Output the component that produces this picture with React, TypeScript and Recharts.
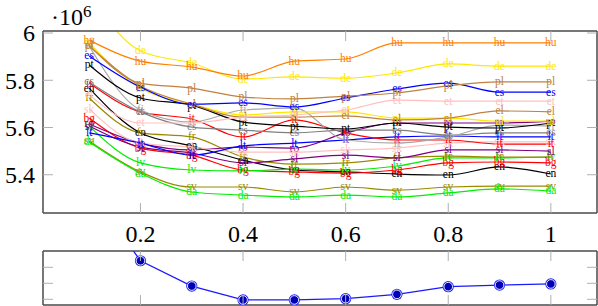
import React from 'react';
import { LineChart, Line, XAxis, YAxis } from 'recharts';

const xValues = [0.1, 0.2, 0.3, 0.4, 0.5, 0.6, 0.7, 0.8, 0.9, 1.0];
const xTicks = [0.2, 0.4, 0.6, 0.8, 1];
const xTickLabels = ['0.2', '0.4', '0.6', '0.8', '1'];
const yTicks = [5.4, 5.6, 5.8, 6];
const yTickLabels = ['5.4', '5.6', '5.8', '6'];
const scaleLabel = '·10';
const scaleExp = '6';

const hu = [5.970, 5.881, 5.856, 5.818, 5.881, 5.890, 5.958, 5.958, 5.958, 5.958];
const de = [6.160, 5.924, 5.873, 5.805, 5.814, 5.809, 5.831, 5.869, 5.860, 5.860];
const pl = [5.949, 5.788, 5.767, 5.729, 5.721, 5.733, 5.746, 5.776, 5.793, 5.793];
const es = [5.903, 5.771, 5.699, 5.704, 5.687, 5.725, 5.763, 5.788, 5.750, 5.750];
const et = [5.738, 5.619, 5.619, 5.644, 5.653, 5.674, 5.716, 5.712, 5.712, 5.712];
const el = [5.945, 5.776, 5.699, 5.644, 5.644, 5.649, 5.632, 5.640, 5.670, 5.666];
const nl = [5.958, 5.767, 5.699, 5.653, 5.666, 5.666, 5.640, 5.640, 5.627, 5.627];
const pt = [5.865, 5.725, 5.695, 5.623, 5.606, 5.594, 5.619, 5.602, 5.598, 5.619];
const fi = [5.945, 5.674, 5.623, 5.674, 5.682, 5.547, 5.534, 5.560, 5.610, 5.606];
const cs = [5.793, 5.666, 5.602, 5.589, 5.577, 5.589, 5.589, 5.568, 5.577, 5.577];
const it = [5.788, 5.666, 5.636, 5.560, 5.632, 5.577, 5.547, 5.547, 5.530, 5.530];
const lt = [5.577, 5.534, 5.483, 5.522, 5.534, 5.547, 5.560, 5.564, 5.560, 5.560];
const sk = [5.678, 5.534, 5.517, 5.496, 5.496, 5.505, 5.513, 5.534, 5.539, 5.539];
const ro = [5.615, 5.534, 5.505, 5.517, 5.513, 5.577, 5.619, 5.619, 5.619, 5.627];
const sl = [5.606, 5.517, 5.492, 5.450, 5.467, 5.483, 5.471, 5.505, 5.505, 5.500];
const fr = [5.725, 5.577, 5.560, 5.475, 5.445, 5.450, 5.471, 5.479, 5.475, 5.475];
const lv = [5.606, 5.450, 5.420, 5.416, 5.424, 5.420, 5.437, 5.471, 5.471, 5.475];
const bg = [5.640, 5.513, 5.483, 5.420, 5.412, 5.407, 5.420, 5.450, 5.454, 5.450];
const en = [5.767, 5.577, 5.522, 5.462, 5.420, 5.412, 5.403, 5.399, 5.433, 5.403];
const sv = [5.543, 5.412, 5.348, 5.348, 5.327, 5.348, 5.335, 5.348, 5.352, 5.352];
const da = [5.539, 5.407, 5.327, 5.314, 5.306, 5.314, 5.306, 5.323, 5.340, 5.331];

const bottomValues = [6.86, 2.41, 0.83, -0.04, -0.04, 0.04, 0.31, 0.79, 0.89, 0.96];
const bottomTicks = [0, 1, 2];

const ORANGE = '#ff8000';
const YELLOW = '#ffe800';
const BROWN = '#bf8040';
const BLUE = '#0000ff';
const PINK = '#ffbfbf';
const BLACK = '#000000';
const GRAY = '#808080';
const LGRAY = '#a8a8a8';
const RED = '#ff0000';
const OLIVE = '#9a8a00';
const GREEN = '#00ee00';
const PURPLE = '#800080';

const series = [
  { name: 'sv', values: sv, color: OLIVE },
  { name: 'da', values: da, color: GREEN },
  { name: 'en', values: en, color: BLACK },
  { name: 'bg', values: bg, color: RED },
  { name: 'lv', values: lv, color: GREEN },
  { name: 'fr', values: fr, color: OLIVE },
  { name: 'sl', values: sl, color: PURPLE },
  { name: 'ro', values: ro, color: PURPLE },
  { name: 'sk', values: sk, color: PINK },
  { name: 'lt', values: lt, color: BLUE },
  { name: 'it', values: it, color: RED },
  { name: 'cs', values: cs, color: GRAY },
  { name: 'fi', values: fi, color: LGRAY },
  { name: 'pt', values: pt, color: BLACK },
  { name: 'nl', values: nl, color: YELLOW },
  { name: 'el', values: el, color: BROWN },
  { name: 'et', values: et, color: PINK },
  { name: 'es', values: es, color: BLUE },
  { name: 'pl', values: pl, color: BROWN },
  { name: 'de', values: de, color: YELLOW },
  { name: 'hu', values: hu, color: ORANGE },
];

const topData = xValues.map((x, i) => {
  const row: Record<string, number> = { x };
  series.forEach((s) => {
    row[s.name] = s.values[i];
  });
  return row;
});

const bottomData = xValues.map((x, i) => ({ x, v: bottomValues[i] }));

const FONT = 'Liberation Serif, Times New Roman, serif';
const FRAME = '#4a4a4a';
const TICKC = '#b0b0b0';
const TL = 10;

const X_DOMAIN: [number, number] = [0.01, 1.09];
const Y_DOMAIN: [number, number] = [5.238, 6.0086];
const B_DOMAIN: [number, number] = [-0.356, 3.02];

// top chart layout
const W = 598;
const TOP_H = 250;
const TOP_MT = 30; // + top axis height 1 => plot top 31
const TOP_XH = 37;
const PLOT_TOP = TOP_MT + 1;
const PLOT_BOTTOM = TOP_H - TOP_XH; // 213
const LEFT = 43;
const RIGHT_W = 1;
const PLOT_RIGHT = W - RIGHT_W;

const makeLabelDot = (name: string, color: string) => (props: any) => {
  const { cx, cy, index, value } = props;
  const v = Array.isArray(value) ? value[1] : value;
  if (cx == null || cy == null || isNaN(cx) || isNaN(cy) || v > Y_DOMAIN[1] || v < Y_DOMAIN[0])
    return <g key={`${name}-e-${index}`} />;
  return (
    <text
      key={`${name}-${index}`}
      x={cx}
      y={cy}
      dy="0.3em"
      textAnchor="middle"
      fontFamily={FONT}
      fontSize={11.5}
      fill={color}
    >
      {name}
    </text>
  );
};

const BottomXTick = (bottomY: number, withLabel: boolean) => (props: any) => {
  const { x, payload } = props;
  const idx = xTicks.indexOf(payload.value);
  return (
    <g>
      <line x1={x} x2={x} y1={bottomY} y2={bottomY - TL} stroke={TICKC} strokeWidth={1} />
      {withLabel && (
        <text x={x} y={bottomY + 21} dy="0.35em" textAnchor="middle" fontFamily={FONT} fontSize={24} fill="#000">
          {xTickLabels[idx]}
        </text>
      )}
    </g>
  );
};

const TopXTick = (topY: number) => (props: any) => {
  const { x } = props;
  return <line x1={x} x2={x} y1={topY} y2={topY + TL} stroke={TICKC} strokeWidth={1} />;
};

const LeftYTick = (withLabel: boolean, labels: string[], ticks: number[]) => (props: any) => {
  const { y, payload } = props;
  const idx = ticks.indexOf(payload.value);
  return (
    <g>
      <line x1={LEFT} x2={LEFT + TL} y1={y} y2={y} stroke={TICKC} strokeWidth={1} />
      {withLabel && (
        <text x={LEFT - 8} y={y} dy="0.35em" textAnchor="end" fontFamily={FONT} fontSize={24} fill="#000">
          {labels[idx]}
        </text>
      )}
    </g>
  );
};

const RightYTick = (props: any) => {
  const { y } = props;
  return <line x1={PLOT_RIGHT} x2={PLOT_RIGHT - TL} y1={y} y2={y} stroke={TICKC} strokeWidth={1} />;
};

const BlueMarker = (props: any) => {
  const { cx, cy, index, value } = props;
  const v = Array.isArray(value) ? value[1] : value;
  if (cx == null || cy == null || v > B_DOMAIN[1]) return <g key={`m-${index}`} />;
  return (
    <g key={`m-${index}`}>
      <circle cx={cx} cy={cy} r={5.6} fill="#2020ff" />
      <circle cx={cx} cy={cy} r={4.3} fill="#0000b4" stroke="#ffffff" strokeWidth={0.9} />
    </g>
  );
};

const BOT_TOP = 240;
const BOT_H = 66;
const BOT_MT = 10; // + 1 => plot top 251 abs
const BOT_PLOT_TOP = BOT_MT + 1;
const BOT_XH = 1;
const BOT_PLOT_BOTTOM = BOT_H - BOT_XH; // 305 abs

export default function App() {
  return (
    <div style={{ position: 'absolute', left: 0, top: 0, width: W, height: 306, background: '#fff', overflow: 'hidden' }}>
      <div style={{ position: 'absolute', left: 0, top: 0 }}>
        <LineChart width={W} height={TOP_H} data={topData} margin={{ top: TOP_MT, right: 0, bottom: 0, left: 0 }}>
          <XAxis
            dataKey="x"
            type="number"
            domain={X_DOMAIN}
            ticks={xTicks}
            allowDataOverflow
            height={TOP_XH}
            axisLine={{ stroke: FRAME, strokeWidth: 1.5 }}
            tickLine={false}
            tick={BottomXTick(PLOT_BOTTOM, true)}
            interval={0}
          />
          <XAxis
            xAxisId="top"
            orientation="top"
            dataKey="x"
            type="number"
            domain={X_DOMAIN}
            ticks={xTicks}
            allowDataOverflow
            height={1}
            axisLine={{ stroke: FRAME, strokeWidth: 1.5 }}
            tickLine={false}
            tick={TopXTick(PLOT_TOP)}
            interval={0}
          />
          <YAxis
            type="number"
            domain={Y_DOMAIN}
            ticks={yTicks}
            allowDataOverflow
            width={LEFT}
            axisLine={{ stroke: FRAME, strokeWidth: 1.5 }}
            tickLine={false}
            tick={LeftYTick(true, yTickLabels, yTicks)}
            interval={0}
          />
          <YAxis
            yAxisId="right"
            orientation="right"
            type="number"
            domain={Y_DOMAIN}
            ticks={yTicks}
            allowDataOverflow
            width={RIGHT_W}
            axisLine={{ stroke: FRAME, strokeWidth: 1.5 }}
            tickLine={false}
            tick={RightYTick}
            interval={0}
          />
          {series.map((s) => (
            <Line
              key={s.name}
              dataKey={s.name}
              type="monotone"
              stroke={s.color}
              strokeWidth={1.2}
              dot={makeLabelDot(s.name, s.color)}
              activeDot={false}
              isAnimationActive={false}
            />
          ))}
        </LineChart>
      </div>
      <div style={{ position: 'absolute', left: 0, top: BOT_TOP }}>
        <LineChart width={W} height={BOT_H} data={bottomData} margin={{ top: BOT_MT, right: 0, bottom: 0, left: 0 }}>
          <XAxis
            dataKey="x"
            type="number"
            domain={X_DOMAIN}
            ticks={xTicks}
            allowDataOverflow
            height={BOT_XH}
            axisLine={{ stroke: FRAME, strokeWidth: 1.5 }}
            tickLine={false}
            tick={BottomXTick(BOT_PLOT_BOTTOM, false)}
            interval={0}
          />
          <XAxis
            xAxisId="top"
            orientation="top"
            dataKey="x"
            type="number"
            domain={X_DOMAIN}
            ticks={xTicks}
            allowDataOverflow
            height={1}
            axisLine={{ stroke: FRAME, strokeWidth: 1.5 }}
            tickLine={false}
            tick={TopXTick(BOT_PLOT_TOP)}
            interval={0}
          />
          <YAxis
            type="number"
            domain={B_DOMAIN}
            ticks={bottomTicks}
            allowDataOverflow
            width={LEFT}
            axisLine={{ stroke: FRAME, strokeWidth: 1.5 }}
            tickLine={false}
            tick={LeftYTick(false, [], bottomTicks)}
            interval={0}
          />
          <YAxis
            yAxisId="right"
            orientation="right"
            type="number"
            domain={B_DOMAIN}
            ticks={bottomTicks}
            allowDataOverflow
            width={RIGHT_W}
            axisLine={{ stroke: FRAME, strokeWidth: 1.5 }}
            tickLine={false}
            tick={RightYTick}
            interval={0}
          />
          <Line
            dataKey="v"
            type="linear"
            stroke="#1a1aff"
            strokeWidth={1.3}
            dot={BlueMarker}
            activeDot={false}
            isAnimationActive={false}
          />
        </LineChart>
      </div>
      <svg width={120} height={30} style={{ position: 'absolute', left: 0, top: 0 }}>
        <text x={51} y={25} fontFamily={FONT} fontSize={24} fill="#000">
          {scaleLabel}
          <tspan fontSize={17} dy={-8}>{scaleExp}</tspan>
        </text>
      </svg>
    </div>
  );
}
